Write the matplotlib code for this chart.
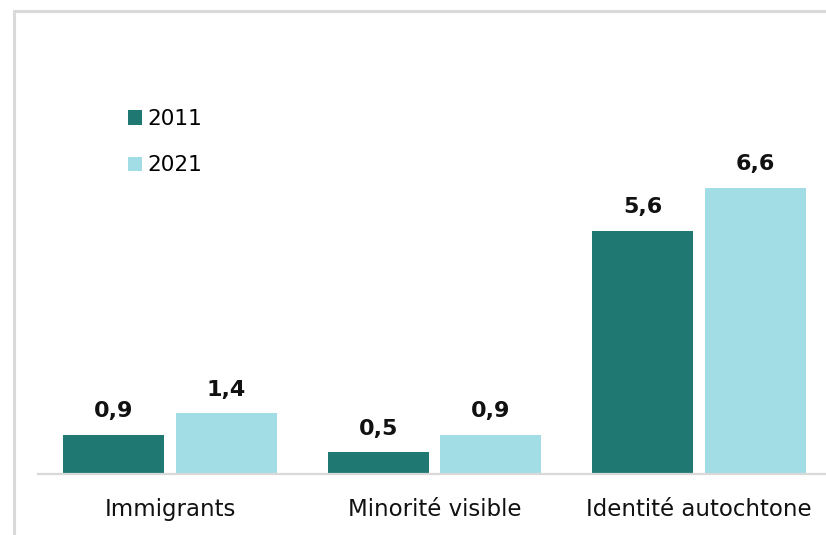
import numpy as np
import matplotlib
matplotlib.use("Agg")
from matplotlib import pyplot as plt
from matplotlib.patches import Rectangle

categories = ["Immigrants", "Minorité visible", "Identité autochtone"]
years = ["2011", "2021"]
values_2011 = [0.9, 0.5, 5.6]
values_2021 = [1.4, 0.9, 6.6]

colors = ["#1F7872", "#A2DDE6"]

plt.rcParams["font.family"] = ["DejaVu Sans"]

W, H = 826, 535
fig = plt.figure(figsize=(W / 100, H / 100), dpi=100)

# light frame around the chart
fig.patches.append(Rectangle((13.5 / W, -0.05), 1.1, 1 - 11 / H + 0.05,
                             transform=fig.transFigure, fill=False,
                             edgecolor="#D9D9D9", linewidth=2.2, zorder=0))

ax = fig.add_axes([38 / W, 61 / H, 793 / W, 434 / H])
x = np.arange(len(categories))
width = 0.382
offset = 0.2127

for i, (vals, year) in enumerate(zip([values_2011, values_2021], years)):
    pos = x + (i * 2 - 1) * offset
    bars = ax.bar(pos, vals, width, color=colors[i], label=year)
    for b, v in zip(bars, vals):
        ax.annotate(f"{v:.1f}".replace(".", ","),
                    (b.get_x() + b.get_width() / 2, v),
                    xytext=(0, 17), textcoords="offset points",
                    ha="center", va="center", fontsize=16, fontweight="bold",
                    color="#111111")

ax.set_xlim(-0.5, 2.5)
ax.set_ylim(0, 10)
ax.set_xticks(x)
ax.set_xticklabels(categories, fontsize=16.5, color="#111111")
ax.tick_params(axis="x", length=0, pad=17)
ax.set_yticks([])
for side in ["top", "right", "left"]:
    ax.spines[side].set_visible(False)
ax.spines["bottom"].set_color("#D9D9D9")
ax.spines["bottom"].set_linewidth(1.6)

fig.legend(loc="upper left", bbox_to_anchor=(128 / W, 1 - 109 / H),
           frameon=False, fontsize=15.6, borderpad=0, borderaxespad=0,
           handlelength=0.65, handleheight=0.65, handletextpad=0.25,
           labelspacing=1.22)

fig.savefig("out.png", dpi=100)
